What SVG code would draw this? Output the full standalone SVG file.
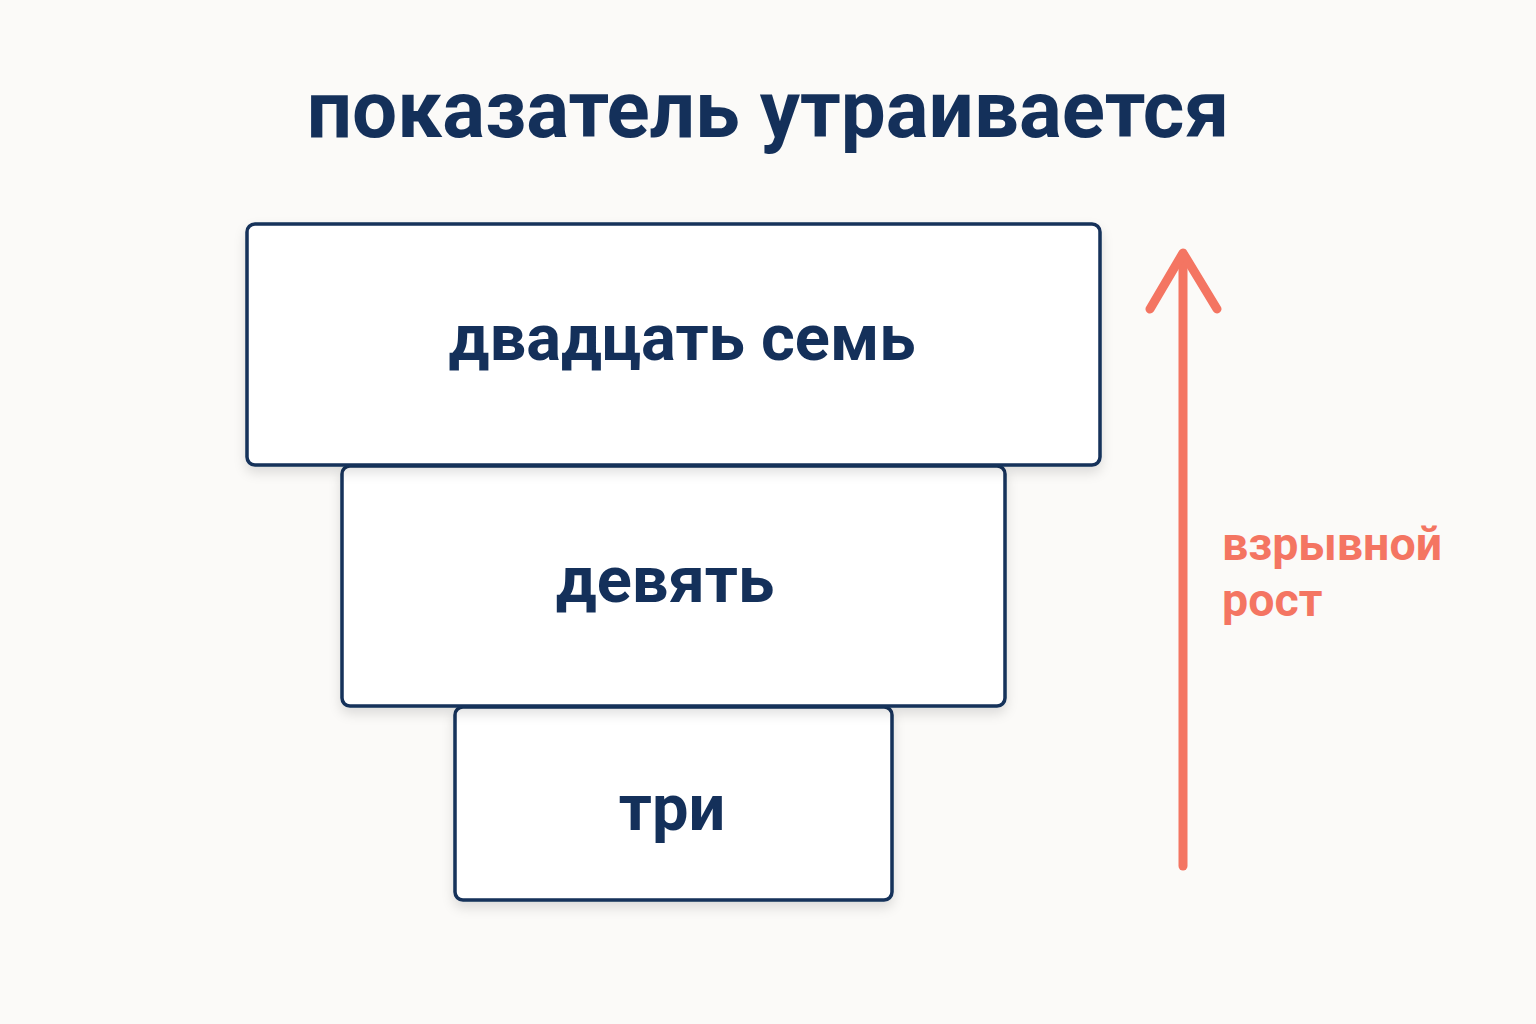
<svg xmlns="http://www.w3.org/2000/svg" width="1536" height="1024" viewBox="0 0 1536 1024">
<style>
.box{fill:#ffffff;stroke:#14305a;stroke-width:3.5}
.lbl{font-family:Roboto,"Liberation Sans",sans-serif;font-weight:bold;fill:#14305a;text-anchor:middle}
.red{font-family:Roboto,"Liberation Sans",sans-serif;font-weight:bold;fill:#f47562;font-size:46.5px}
</style>
<defs>
<filter id="sh" x="-10%" y="-10%" width="120%" height="130%"><feDropShadow dx="0" dy="6" stdDeviation="6" flood-color="#000" flood-opacity="0.12"/></filter>
</defs>
<rect width="1536" height="1024" fill="#fbfaf8"/>
<text class="lbl" x="768" y="137" font-size="80">показатель утраивается</text>
<g id="n3"><rect class="box" x="455" y="707" width="437" height="193" rx="8" filter="url(#sh)"/><text class="lbl" x="672" y="830" font-size="65">три</text></g>
<g id="n2"><rect class="box" x="342" y="466" width="663" height="240" rx="8" filter="url(#sh)"/><text class="lbl" x="665" y="602" font-size="65">девять</text></g>
<g id="n1"><rect class="box" x="247" y="224" width="853" height="241" rx="8" filter="url(#sh)"/><text class="lbl" x="682" y="360" font-size="65">двадцать семь</text></g>
<g id="connectors" stroke="#f47562" stroke-width="9" stroke-linecap="round" stroke-linejoin="round" fill="none">
<line x1="1183" y1="866" x2="1183" y2="254"/>
<polyline points="1150,309 1183,253 1217,309"/>
</g>
<text class="red" x="1222" y="560">взрывной</text>
<text class="red" x="1222" y="616">рост</text>
</svg>
